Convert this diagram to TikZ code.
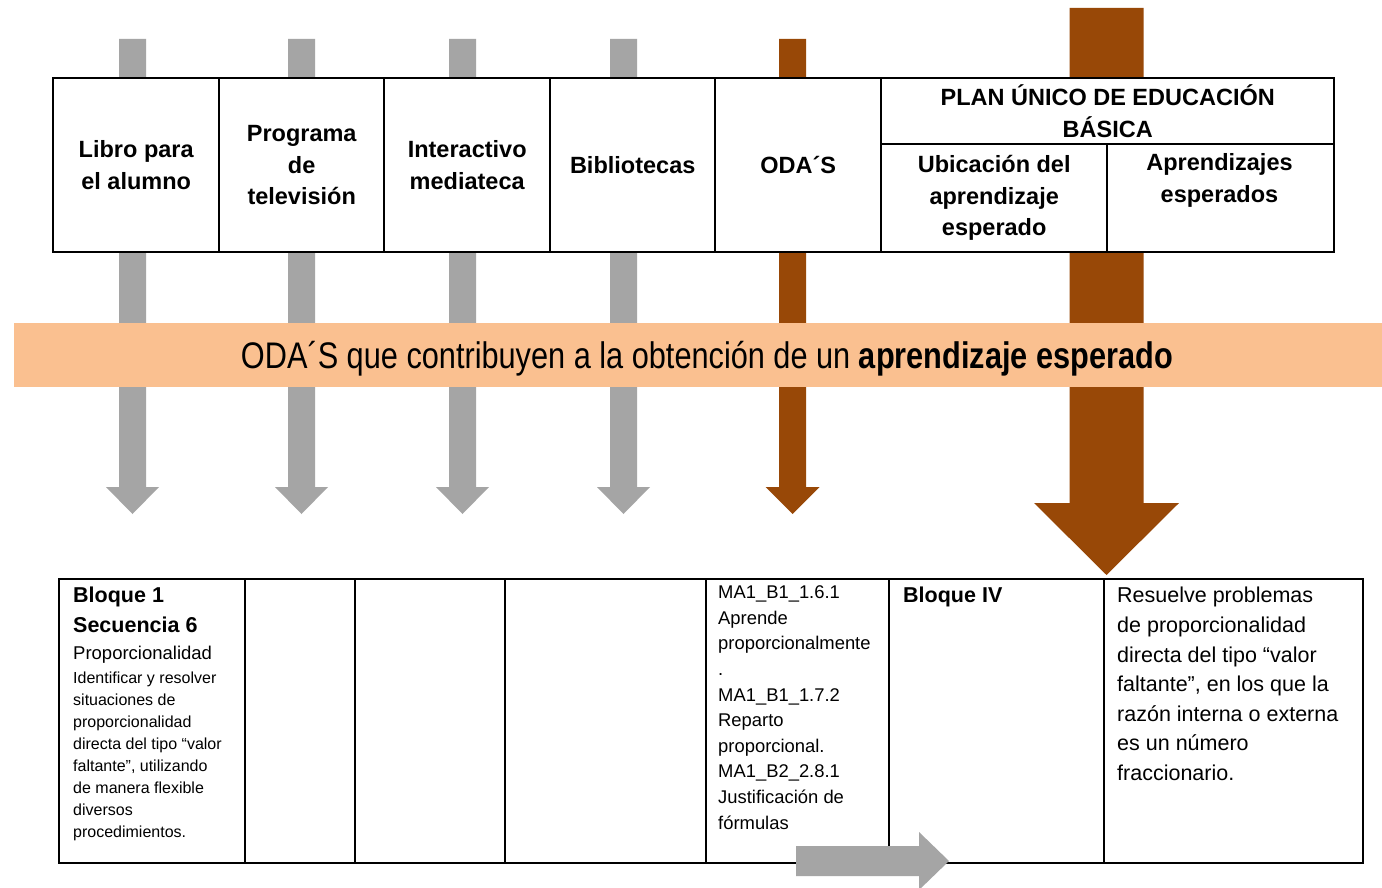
\documentclass[tikz,border=0pt]{standalone}
\usepackage{fontspec}
\setmainfont{Liberation Sans}
\newfontfamily\bandfont[FakeStretch=0.83]{Liberation Sans}
\definecolor{arrgray}{HTML}{A5A5A5}
\definecolor{arrbrown}{HTML}{984807}
\definecolor{bandorange}{HTML}{FAC090}
\newcommand{\dnarrow}[7]{% color, cx, top, halfshaft, headtop, halfhead, tip
  \fill[#1] ({#2-#4},#3) -- ({#2+#4},#3) -- ({#2+#4},#5) -- ({#2+#6},#5)
    -- (#2,#7) -- ({#2-#6},#5) -- ({#2-#4},#5) -- cycle;}
\begin{document}
\begin{tikzpicture}[x=1pt,y=-1pt,
  cell/.style={draw=black, fill=white, line width=2.4pt, inner sep=0pt,
    anchor=north west, align=center,
    font=\bfseries\fontsize{23.5}{31.5}\selectfont},
  bcell/.style={draw=black, fill=white, line width=2.4pt, inner sep=0pt,
    anchor=north west},
  hdtxt/.style={anchor=base, inner sep=0pt, align=center,
    font=\bfseries\fontsize{23.5}{31.5}\selectfont},
  boldtxt/.style={anchor=base west, inner sep=0pt, align=left,
    font=\bfseries\fontsize{21.5}{30}\selectfont},
  proptxt/.style={anchor=base west, inner sep=0pt, align=left,
    font=\fontsize{18.5}{22}\selectfont},
  smalltxt/.style={anchor=base west, inner sep=0pt, align=left,
    font=\fontsize{16}{22}\selectfont},
  odatxt/.style={anchor=base west, inner sep=0pt, align=left,
    font=\fontsize{18.4}{25.6}\selectfont},
  restxt/.style={anchor=base west, inner sep=0pt, align=left,
    font=\fontsize{21.5}{29.6}\selectfont},
  bandtxt/.style={anchor=base, inner sep=0pt,
    font=\bandfont\fontsize{37}{44}\selectfont},
]
\clip (0,0) rectangle (1382,888);
\fill[white] (0,0) rectangle (1382,888);

% vertical block arrows (behind everything)
\dnarrow{arrgray}{132.5}{39}{13.5}{487}{26.5}{514}
\dnarrow{arrgray}{301.5}{39}{13.5}{487}{26.5}{514}
\dnarrow{arrgray}{462.5}{39}{13.5}{487}{26.5}{514}
\dnarrow{arrgray}{623.5}{39}{13.5}{487}{26.5}{514}
\dnarrow{arrbrown}{792.5}{39}{13.5}{487}{27}{514}
\dnarrow{arrbrown}{1106.5}{8}{37}{503}{72.5}{575}

% top table
\node[cell, minimum width=166pt, minimum height=174pt] (t1) at (52,77) {Libro para\\el alumno};
\node[cell, minimum width=165pt, minimum height=174pt] (t2) at (218,77) {Programa\\de\\televisión};
\node[cell, minimum width=166pt, minimum height=174pt] (t3) at (383,77) {Interactivo\\mediateca};
\node[cell, minimum width=165pt, minimum height=174pt] (t4) at (549,77) {Bibliotecas};
\node[cell, minimum width=166pt, minimum height=174pt] (t5) at (714,77) {ODA´S};
\node[cell, minimum width=453pt, minimum height=66pt] (t6) at (880,77) {PLAN ÚNICO DE EDUCACIÓN\\BÁSICA};
\node[cell, minimum width=226pt, minimum height=108pt] (t7) at (880,143) {Ubicación del\\aprendizaje\\esperado};
\node[bcell, minimum width=227pt, minimum height=108pt] (t8) at (1106,143) {};
\node[hdtxt] (t8txt) at (1219.5,202) {Aprendizajes\\esperados};

% orange band
\fill[bandorange] (14,323) rectangle (1382,387);
\node[bandtxt] (band) at (707,368) {ODA´S que contribuyen a la obtención de un \textbf{aprendizaje esperado}};

% bottom table
\node[bcell, minimum width=186pt, minimum height=284pt] (b1) at (58,578) {};
\node[bcell, minimum width=110pt, minimum height=284pt] (b2) at (244,578) {};
\node[bcell, minimum width=150pt, minimum height=284pt] (b3) at (354,578) {};
\node[bcell, minimum width=201pt, minimum height=284pt] (b4) at (504,578) {};
\node[bcell, minimum width=183pt, minimum height=284pt] (b5) at (705,578) {};
\node[bcell, minimum width=215pt, minimum height=284pt] (b6) at (888,578) {};
\node[bcell, minimum width=259pt, minimum height=284pt] (b7) at (1103,578) {};

\node[boldtxt] (b1a) at (73,632) {Bloque 1\\Secuencia 6};
\node[proptxt] (b1b) at (73,659) {Proporcionalidad};
\node[smalltxt] (b1c) at (73,837) {Identificar y resolver\\situaciones de\\proporcionalidad\\directa del tipo “valor\\faltante”, utilizando\\de manera flexible\\diversos\\procedimientos.};
\node[odatxt] (b5txt) at (718,829) {MA1\_B1\_1.6.1\\Aprende\\proporcionalmente\\.\\MA1\_B1\_1.7.2\\Reparto\\proporcional.\\MA1\_B2\_2.8.1\\Justificación de\\fórmulas};
\node[boldtxt] (b6txt) at (903,602) {Bloque IV};
\node[restxt] (b7txt) at (1117,780.5) {Resuelve problemas\\de proporcionalidad\\directa del tipo “valor\\faltante”, en los que la\\razón interna o externa\\es un número\\fraccionario.};

% horizontal block arrow at the bottom
\fill[arrgray] (796,846) -- (919,846) -- (919,832) -- (949,861) -- (919,890) -- (919,876) -- (796,876) -- cycle;
\end{tikzpicture}
\end{document}
